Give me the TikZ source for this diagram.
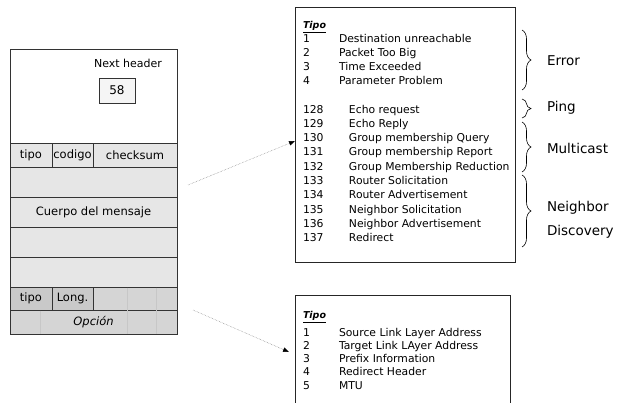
\documentclass[tikz,border=0pt]{standalone}
\usepackage{fontspec}
\setmainfont{DejaVu Sans}
\usepackage{tikz}
\usepackage{xcolor}
\usetikzlibrary{calc,arrows.meta,decorations.pathreplacing}

\definecolor{celda}{HTML}{E6E6E6}
\definecolor{opcion}{HTML}{D5D5D5}
\definecolor{tipolong}{HTML}{C9C9C9}

\newcommand{\tipocab}{\underline{\fontsize{9.5}{11}\selectfont\bfseries\itshape Tipo}}

\begin{document}
\begin{tikzpicture}[x=1pt,y=-1pt]
        \tikzstyle{every node}=[inner sep=0pt, outer sep=0pt]
        \tikzstyle{campo}=[draw=black!80, line width=0.8pt, fill=celda, anchor=north west, font=\fontsize{11.5}{14}\selectfont]
        \tikzstyle{caja}=[draw=black!85, line width=0.8pt, anchor=north west]
        \tikzstyle{lista}=[anchor=north west, align=left, font=\fontsize{10.8}{14}\selectfont]
        \tikzstyle{llave}=[decorate, decoration={brace, amplitude=9pt}, line width=0.6pt]
        \tikzstyle{grupo}=[anchor=west, align=left, font=\fontsize{13.5}{24}\selectfont]
        \tikzstyle{flecha}=[densely dotted, draw=black!50, line width=0.5pt, -{Triangle[length=6pt, width=4.5pt, color=black]}]

        \clip (0,0) rectangle (628,402);

            % cabecera IPv6
            \node[campo, fill=white, minimum width=167, minimum height=94] (H) at (10,49) {};
            \node[font=\fontsize{11}{13}\selectfont] (NH) at (128,63) {Next header};
            \node[draw=black!80, line width=0.8pt, fill=black!4, minimum width=36, minimum height=25, font=\fontsize{12}{14}\selectfont] (NHv) at (117,90.5) {58};

            % mensaje ICMPv6
            \node[campo, minimum width=42, minimum height=24] (R1a) at (H.south west) {tipo};
            \node[campo, minimum width=41, minimum height=24] (R1b) at (R1a.north east) {codigo};
            \node[campo, minimum width=84, minimum height=24] (R1c) at (R1b.north east) {checksum};
            \node[campo, minimum width=167, minimum height=30] (R2) at (R1a.south west) {};
            \node[campo, minimum width=167, minimum height=30] (R3) at (R2.south west) {Cuerpo del mensaje};
            \node[campo, minimum width=167, minimum height=30] (R4) at (R3.south west) {};
            \node[campo, minimum width=167, minimum height=30] (R5) at (R4.south west) {};

            % opcion
            \node[campo, fill=tipolong, minimum width=42, minimum height=23] (R6a) at (R5.south west) {tipo};
            \node[campo, fill=tipolong, minimum width=41, minimum height=23] (R6b) at (R6a.north east) {Long.};
            \node[campo, fill=opcion, minimum width=84, minimum height=23] (R6c) at (R6b.north east) {};
            \node[campo, fill=opcion, minimum width=167, minimum height=24] (R7) at (R6a.south west) {\itshape Opción};
            \draw[black!22, line width=0.4pt] ($(R6c.north west)+(34,0.5)$) -- ($(R7.south west)+(117,-0.5)$);
            \draw[black!22, line width=0.4pt] ($(R6c.north west)+(63,0.5)$) -- ($(R7.south west)+(146,-0.5)$);
            \draw[black!22, line width=0.4pt] ($(R7.north west)+(30,0.5)$) -- ($(R7.south west)+(30,-0.5)$);

            % tipos de mensaje
            \node[caja, minimum width=220, minimum height=255] (T) at (295,7) {};
            \node[anchor=base west] (T0) at ($(T.north west)+(8,21.5)$) {\tipocab};
            \node[lista] (T1) at ($(T.north west)+(8,27.7)$) {%
                \makebox[36pt][l]{1}Destination unreachable\\
                \makebox[36pt][l]{2}Packet Too Big\\
                \makebox[36pt][l]{3}Time Exceeded\\
                \makebox[36pt][l]{4}Parameter Problem};
            \node[lista, font=\fontsize{10.8}{14.3}\selectfont] (T2) at ($(T.north west)+(8,97.8)$) {%
                \makebox[46pt][l]{128}Echo request\\
                \makebox[46pt][l]{129}Echo Reply\\
                \makebox[46pt][l]{130}Group membership Query\\
                \makebox[46pt][l]{131}Group membership Report\\
                \makebox[46pt][l]{132}Group Membership Reduction\\
                \makebox[46pt][l]{133}Router Solicitation\\
                \makebox[46pt][l]{134}Router Advertisement\\
                \makebox[46pt][l]{135}Neighbor Solicitation\\
                \makebox[46pt][l]{136}Neighbor Advertisement\\
                \makebox[46pt][l]{137}Redirect};

            \draw[llave] ($(T.north east)+(7,23)$) -- ($(T.north east)+(7,83)$);
            \draw[llave] ($(T.north east)+(7,92)$) -- ($(T.north east)+(7,111)$);
            \draw[llave] ($(T.north east)+(7,115)$) -- ($(T.north east)+(7,165)$);
            \draw[llave] ($(T.north east)+(7,168)$) -- ($(T.north east)+(7,240)$);

            \node[grupo] (G1) at (547,61) {Error};
            \node[grupo] (G2) at (547,108) {Ping};
            \node[grupo] (G3) at (547,148) {Multicast};
            \node[grupo] (G4) at (547,220) {Neighbor\\Discovery};

            % tipos de opcion
            \node[caja, minimum width=215, minimum height=120] (O) at (295,295) {};
            \node[anchor=base west] (O0) at ($(O.north west)+(8,23.5)$) {\tipocab};
            \node[lista, font=\fontsize{10.8}{13.25}\selectfont] (O1) at ($(O.north west)+(8,32.8)$) {%
                \makebox[36pt][l]{1}Source Link Layer Address\\
                \makebox[36pt][l]{2}Target Link LAyer Address\\
                \makebox[36pt][l]{3}Prefix Information\\
                \makebox[36pt][l]{4}Redirect Header\\
                \makebox[36pt][l]{5}MTU};

            \coordinate (A1) at ($(R2.east)+(11,3)$);
            \coordinate (A1f) at ($(T.north west)+(0,134)$);
            \coordinate (A2) at ($(R7.north east)+(16,0)$);
            \coordinate (A2f) at ($(O.north west)+(-6,57)$);
            \draw[flecha] (A1) -- (A1f);
            \draw[flecha] (A2) -- (A2f);

        \end{tikzpicture}
\end{document}
